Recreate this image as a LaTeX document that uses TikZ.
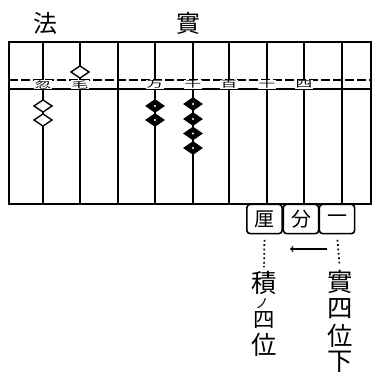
\documentclass[tikz,border=0pt]{standalone}
\usepackage{fontspec}
\newfontfamily\cjk{Noto Sans CJK JP}
\usepackage{tikz}
\usetikzlibrary{arrows,shapes.geometric}

\newcommand{\squat}[1]{\scalebox{1}[0.55]{#1}}

\begin{document}
\begin{tikzpicture}[x=0.75pt,y=-0.75pt,
  frame/.style={line width=2pt},
  rod/.style={line width=1pt},
  beam/.style={line width=0.9pt},
  place/.style={font=\cjk\fontsize{12.5}{12.5}\selectfont,fill=white,inner sep=0.3pt},
  blank/.style={diamond,draw,fill=white,line width=1pt,inner sep=0pt,minimum width=14pt,minimum height=9.5pt},
  bead/.style={diamond,fill=black,inner sep=0pt,minimum width=15pt,minimum height=10.5pt,
    path picture={\fill[white] (path picture bounding box.center) circle (0.8pt);}},
  unit/.style={draw,rounded corners=2.5pt,line width=1.2pt,inner sep=0pt,minimum width=26.5pt,minimum height=22pt,font=\cjk\fontsize{15}{15}\selectfont},
  title/.style={font=\cjk\fontsize{18}{18}\selectfont,inner sep=0pt},
  word/.style={font=\cjk\fontsize{19}{19}\selectfont,inner sep=0pt},
  dots/.style={line width=1.3pt,dash pattern=on 1.3pt off 2pt}]
\useasboundingbox (0,0) rectangle (384,381);
%\draw (0,0) grid (384,381);

\node [title] (fa) at (45,23) {法};
\node [title] (shi) at (188,23) {實};

% board
\draw [frame] (9,42) rectangle (371,204);
\draw [rod] (43,42) -- (43,204); \draw [rod] (80,42) -- (80,204); \draw [rod] (118,42) -- (118,204); \draw [rod] (155,42) -- (155,204); \draw [rod] (193,42) -- (193,204); \draw [rod] (229,42) -- (229,204); \draw [rod] (267,42) -- (267,204); \draw [rod] (304,42) -- (304,204); \draw [rod] (342,42) -- (342,204);
\draw [beam,dash pattern=on 7pt off 2pt] (9,80) -- (371,80);
\draw [beam] (9,89) -- (371,89);

\node [place] (hu) at (43,84.5) {\squat{忽}};
\node [place] (mao) at (80,84.5) {\squat{毛}};
\node [place] (wan) at (155,84.5) {\squat{万}};
\node [place] (qian) at (193,84.5) {\squat{千}};
\node [place] (bai) at (229,84.5) {\squat{百}};
\node [place] (shi10) at (267,84.5) {\squat{十}};
\node [place] (si) at (304,84.5) {\squat{四}};

% counters
\node [blank] (a1) at (80,72) {};
\node [blank] (b1) at (43,106) {}; \node [blank] (b2) at (43,120) {};
\node [bead] (c1) at (155,106) {}; \node [bead] (c2) at (155,120) {};
\node [bead] (d1) at (193,104) {}; \node [bead] (d2) at (193,119) {}; \node [bead] (d3) at (193,133.5) {}; \node [bead] (d4) at (193,148) {};

% places below
\node [unit] (li) at (264.5,219) {厘};
\node [unit] (fen) at (301,219) {分};
\node [unit] (yi) at (337,219) {一};

\node [word] (ji) at (264,283) {積};
\node [font=\cjk\fontsize{10}{10}\selectfont,inner sep=0pt] (no) at (262,304) {ノ};
\node [font=\cjk\fontsize{16}{16}\selectfont,inner sep=0pt] (si1) at (264,320) {四};
\node [word] (wei1) at (264,345) {位};

\node [word] (shi2) at (340,282) {實};
\node [word] (si2) at (340,309) {四};
\node [word] (wei2) at (340,335.5) {位};
\node [word] (xia) at (340,362) {下};

\draw [dots,shorten <=4pt,shorten >=3pt] (li.south) -- (ji.north);
\draw [dots,shorten <=4pt,shorten >=3pt] (yi.south) -- (shi2.north);
\coordinate (from) at (327,249); \coordinate (to) at (290,249);
\draw [->,line width=0.8pt] (from) -- (to);
\end{tikzpicture}
\end{document}
